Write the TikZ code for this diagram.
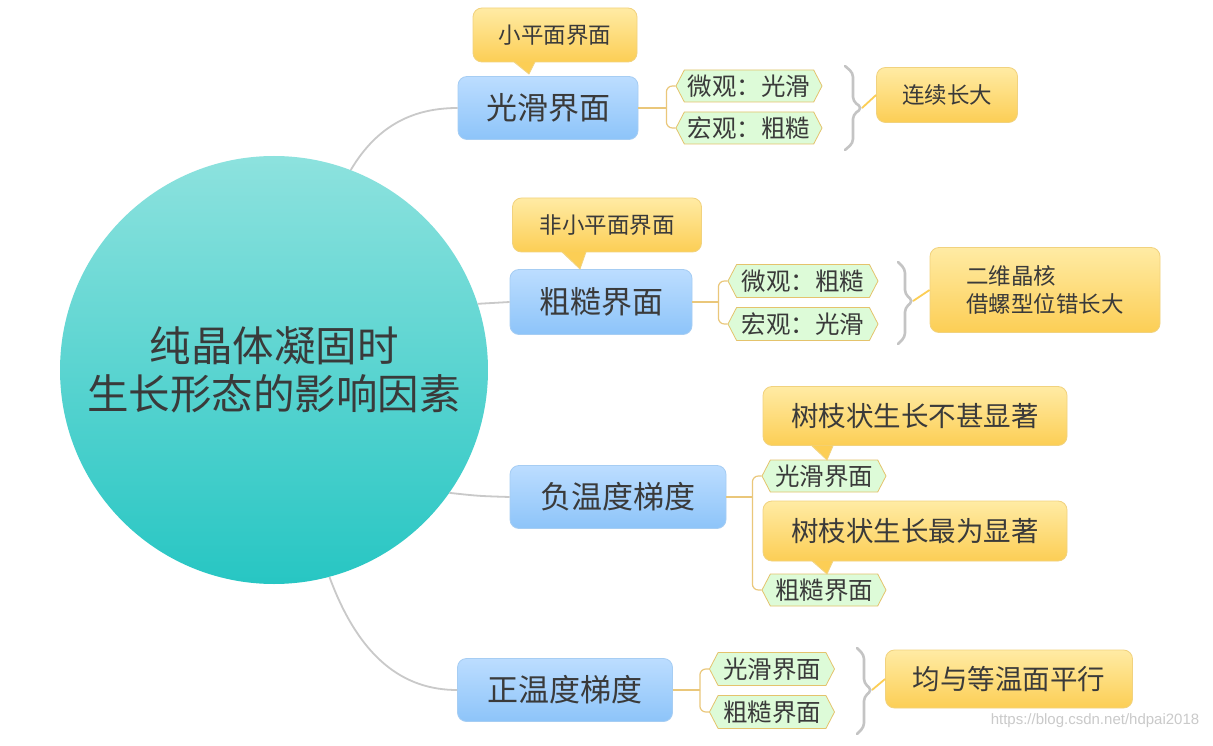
\documentclass[tikz,border=0pt]{standalone}
\usepackage{fontspec}
\setmainfont{Noto Sans CJK SC}
\newfontfamily\wmfont{Liberation Sans}
\usetikzlibrary{shapes.symbols}
\definecolor{txt}{HTML}{3A3A3A}
\definecolor{blueT}{HTML}{BCDDFF}
\definecolor{blueB}{HTML}{8DC4F9}
\definecolor{blueD}{HTML}{A6CDF3}
\definecolor{yelT}{HTML}{FFEBA4}
\definecolor{yelB}{HTML}{FCCE55}
\definecolor{yelD}{HTML}{F1D27E}
\definecolor{greenF}{HTML}{DDFBD8}
\definecolor{greenD}{HTML}{E4C36C}
\definecolor{tanL}{HTML}{EAC77A}
\definecolor{grayL}{HTML}{C9C9C9}
\definecolor{braceC}{HTML}{C4C4C4}
\definecolor{circT}{HTML}{8DE2DE}
\definecolor{circB}{HTML}{27C6C3}
\definecolor{wm}{HTML}{CACACA}
\begin{document}
\begin{tikzpicture}[x=1pt,y=-1pt,
  bluebox/.style={rounded corners=9pt, top color=blueT, bottom color=blueB, draw=blueD, line width=0.8pt, text=txt, font=\fontsize{31}{36}\selectfont, inner sep=0pt, minimum height=63pt},
  greenbox/.style={signal, signal to=west and east, signal pointer angle=125, fill=greenF, draw=greenD, line width=0.8pt, text=txt, font=\fontsize{24.5}{27}\selectfont, inner sep=0pt, minimum height=32pt},
  yelbox/.style={rounded corners=9pt, top color=yelT, bottom color=yelB, draw=yelD, line width=0.8pt, text=txt, inner sep=0pt},
  tanline/.style={draw=tanL, line width=1.2pt},
  grayline/.style={draw=grayL, line width=1.8pt},
  bracestyle/.style={draw=braceC, line width=2.6pt, line cap=round, rounded corners=4pt},
  yelline/.style={draw=yelB, line width=1.8pt},
  ptrfill/.style={fill=yelB},
  ptrdraw/.style={draw=yelD, line width=0.8pt}
]
\useasboundingbox (0,0) rectangle (1213,746);
\fill[white] (0,0) rectangle (1213,746);

% central circle
\node[circle, minimum size=428pt, inner sep=0pt, top color=circT, bottom color=circB, text=txt, align=center,
  font=\fontsize{41.5}{48}\selectfont] (c) at (274,370) {纯晶体凝固时\\生长形态的影响因素};

% ---- row 1
\node[bluebox, minimum width=180pt] (bl1) at (548,108) {光滑界面};
\node[yelbox, minimum width=164pt, minimum height=54pt, font=\fontsize{22.5}{26}\selectfont] (ca1) at (555,35) {小平面界面};
\fill[ptrfill] (514,61.5) -- (529,74) -- (535,61.5) -- cycle;
\draw[ptrdraw] (514,62) -- (529,74) -- (535,62);
\node[greenbox, minimum width=146pt] (g1a) at (749,86) {微观：光滑};
\node[greenbox, minimum width=146pt] (g1b) at (749,128) {宏观：粗糙};
\draw[tanline] (bl1.east) -- ++(28,0) coordinate (j1);
\draw[tanline, rounded corners=6pt] (j1) |- (g1a.west);
\draw[tanline, rounded corners=6pt] (j1) |- (g1b.west);
\draw[bracestyle] (845,66) -- (853,73) -- (853,101) -- (862,108) -- (853,115) -- (853,143) -- (845,150);
\coordinate (b1) at (862,108);
\node[yelbox, minimum width=141pt, minimum height=55pt, font=\fontsize{22.5}{26}\selectfont] (y1) at (947,95) {连续长大};
\draw[yelline] (b1) -- (y1.west);
\draw[grayline] (c.69) .. controls (378,124) and (415,108) .. (bl1.west);

% ---- row 2
\node[bluebox, minimum width=182pt, minimum height=65pt] (bl2) at (601,302) {粗糙界面};
\node[yelbox, minimum width=189pt, minimum height=54pt, font=\fontsize{22.5}{26}\selectfont] (ca2) at (607,225) {非小平面界面};
\fill[ptrfill] (562,251.5) -- (580,269) -- (586,251.5) -- cycle;
\draw[ptrdraw] (562,252) -- (580,269) -- (586,252);
\node[greenbox, minimum width=150pt, minimum height=33pt] (g2a) at (803,281) {微观：粗糙};
\node[greenbox, minimum width=150pt, minimum height=33pt] (g2b) at (803,324) {宏观：光滑};
\draw[tanline] (bl2.east) -- ++(26,0) coordinate (j2);
\draw[tanline, rounded corners=6pt] (j2) |- (g2a.west);
\draw[tanline, rounded corners=6pt] (j2) |- (g2b.west);
\draw[bracestyle] (898,262) -- (905,269) -- (905,294) -- (913,301) -- (905,308) -- (905,337) -- (898,344);
\coordinate (b2) at (913,301);
\node[yelbox, minimum width=230pt, minimum height=85pt, align=left, font=\fontsize{22.5}{28}\selectfont] (y2) at (1045,290) {二维晶核\\借螺型位错长大};
\draw[yelline] (b2) -- (y2.west);
\draw[grayline] (c.18) -- (bl2.west);

% ---- row 3
\node[bluebox, minimum width=216pt] (bl3) at (618,497) {负温度梯度};
\node[greenbox, minimum width=124pt] (g3a) at (824,476) {光滑界面};
\node[greenbox, minimum width=124pt] (g3b) at (824,590) {粗糙界面};
\node[yelbox, minimum width=304pt, minimum height=59pt, font=\fontsize{27.5}{32}\selectfont] (y3a) at (915,416) {树枝状生长不甚显著};
\fill[ptrfill] (812,445.5) -- (827,460) -- (833,445.5) -- cycle;
\draw[ptrdraw] (812,446) -- (827,460) -- (833,446);
\node[yelbox, minimum width=304pt, minimum height=60pt, font=\fontsize{27.5}{32}\selectfont] (y3b) at (915,531) {树枝状生长最为显著};
\fill[ptrfill] (812,560.5) -- (827,574) -- (833,560.5) -- cycle;
\draw[ptrdraw] (812,561) -- (827,574) -- (833,561);
\draw[tanline] (bl3.east) -- ++(26,0) coordinate (j3);
\draw[tanline, rounded corners=6pt] (j3) |- (g3a.west);
\draw[tanline, rounded corners=6pt] (j3) |- (g3b.west);
\draw[grayline] (c.-35) .. controls (478,496) .. (bl3.west);

% ---- row 4
\node[bluebox, minimum width=215pt] (bl4) at (565,690) {正温度梯度};
\node[greenbox, minimum width=125pt, minimum height=33pt] (g4a) at (772,669) {光滑界面};
\node[greenbox, minimum width=125pt, minimum height=33pt] (g4b) at (772,712) {粗糙界面};
\draw[tanline] (bl4.east) -- ++(27,0) coordinate (j4);
\draw[tanline, rounded corners=6pt] (j4) |- (g4a.west);
\draw[tanline, rounded corners=6pt] (j4) |- (g4b.west);
\draw[bracestyle] (857,648) -- (864,655) -- (864,683) -- (872,690) -- (864,697) -- (864,727) -- (857,734);
\coordinate (b4) at (872,690);
\node[yelbox, minimum width=247pt, minimum height=58pt, font=\fontsize{27.5}{32}\selectfont] (y4) at (1009,679) {均与等温面平行};
\draw[yelline] (b4) -- (y4.west);
\draw[grayline] (c.-75) .. controls (360,660) and (405,690) .. (bl4.west);

% watermark
\node[text=wm, font=\wmfont\fontsize{15}{17}\selectfont, inner sep=0pt] (wm) at (1095,721) {https://blog.csdn.net/hdpai2018};
\end{tikzpicture}
\end{document}
